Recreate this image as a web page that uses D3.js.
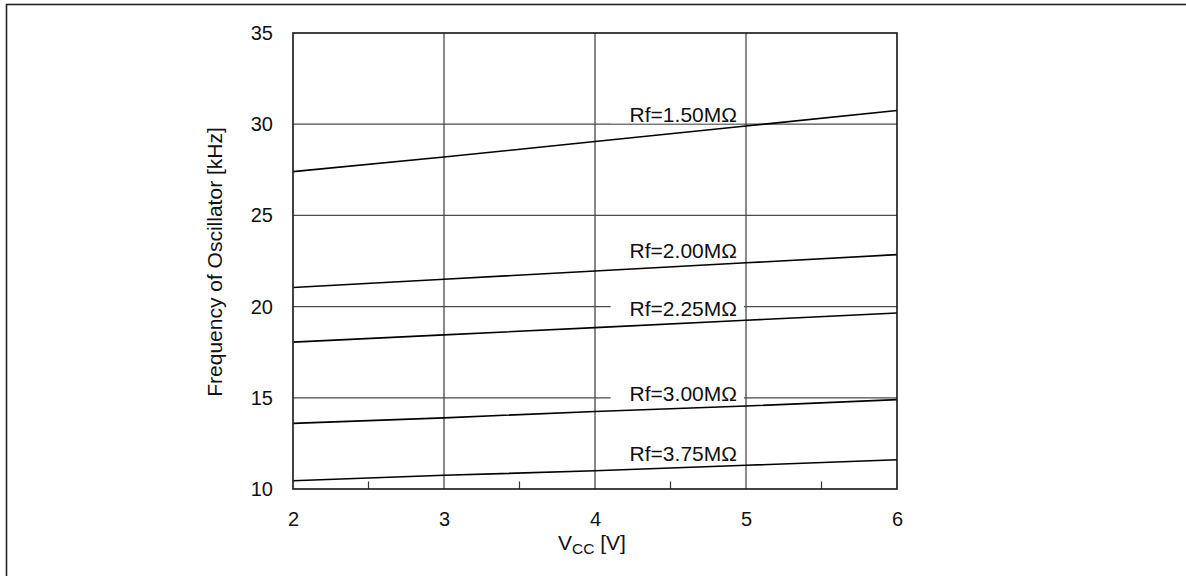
<!DOCTYPE html>
<html>
<head>
<meta charset="utf-8">
<script src="https://cdn.jsdelivr.net/npm/d3@7/dist/d3.min.js"></script>
<style>
  html, body { margin: 0; padding: 0; background: #fff; }
  svg { display: block; font-family: "Liberation Sans", Arial, Helvetica, sans-serif; }
</style>
</head>
<body>
<svg id="chart" width="1186" height="576"></svg>
<script>
// ---- data ----
const vcc = [2, 3, 4, 5, 6];
const seriesNames = ["Rf=1.50M\u03A9", "Rf=2.00M\u03A9", "Rf=2.25M\u03A9", "Rf=3.00M\u03A9", "Rf=3.75M\u03A9"];
const rf150 = [27.4, 28.2, 29.05, 29.9, 30.75];
const rf200 = [21.05, 21.5, 21.95, 22.4, 22.85];
const rf225 = [18.05, 18.45, 18.85, 19.25, 19.65];
const rf300 = [13.6, 13.9, 14.25, 14.55, 14.9];
const rf375 = [10.45, 10.75, 11.0, 11.3, 11.6];
const xTicks = [2, 3, 4, 5, 6];
const xMinorTicks = [2.5, 3.5, 4.5, 5.5];
const yTicks = [10, 15, 20, 25, 30, 35];
const labelAtV = 4.95;
const xTitleMain = "V", xTitleSub = "CC", xTitleUnit = " [V]";
const yTitle = "Frequency of Oscillator [kHz]";

const seriesValues = [rf150, rf200, rf225, rf300, rf375];

// ---- layout ----
const svg = d3.select("#chart");
const L = 293, R = 897, T = 33, B = 489;
const x = d3.scaleLinear().domain([2, 6]).range([L, R]);
const y = d3.scaleLinear().domain([10, 35]).range([B, T]);

// outer frame
svg.append("rect").attr("x", 6.5).attr("y", 4.5).attr("width", 1300).attr("height", 700)
  .attr("fill", "none").attr("stroke", "#222").attr("stroke-width", 1.6);

// gridlines
const grid = svg.append("g").attr("stroke", "#4a4a4a").attr("stroke-width", 1.3);
grid.selectAll("line.v").data(xTicks.slice(1, -1)).join("line")
  .attr("x1", d => x(d)).attr("x2", d => x(d)).attr("y1", T).attr("y2", B);
grid.selectAll("line.h").data(yTicks.slice(1, -1)).join("line")
  .attr("x1", L).attr("x2", R).attr("y1", d => y(d)).attr("y2", d => y(d));

// minor ticks on bottom axis
svg.append("g").attr("stroke", "#333").attr("stroke-width", 1.2)
  .selectAll("line").data(xMinorTicks).join("line")
  .attr("x1", d => x(d)).attr("x2", d => x(d)).attr("y1", B).attr("y2", B - 7.5);

// labels (with white background masking gridlines)
const labelsG = svg.append("g");
const lineGen = d3.line().x((d, i) => x(vcc[i])).y(d => y(d));
const interp = (vals, v) => {
  const i = Math.min(vcc.length - 2, Math.max(0, d3.bisectRight(vcc, v) - 1));
  const t = (v - vcc[i]) / (vcc[i + 1] - vcc[i]);
  return vals[i] + t * (vals[i + 1] - vals[i]);
};
const labelTexts = seriesValues.map((vals, k) => {
  const bg = labelsG.append("rect").attr("fill", "#fff");
  const t = labelsG.append("text")
    .attr("x", x(labelAtV) - 1.5)
    .attr("y", y(interp(vals, labelAtV)) - 5)
    .attr("text-anchor", "end")
    .attr("font-size", 21)
    .attr("fill", "#111")
    .text(seriesNames[k]);
  const bb = t.node().getBBox();
  const base = +t.attr("y");
  bg.attr("x", bb.x - 19).attr("width", bb.width + 26)
    .attr("y", base - 15).attr("height", 16.5);
  return t;
});

// series lines
svg.append("g").selectAll("path").data(seriesValues).join("path")
  .attr("d", d => lineGen(d))
  .attr("fill", "none").attr("stroke", "#000").attr("stroke-width", 1.6);

// text above lines
const textTop = svg.append("g");
labelTexts.forEach(t => textTop.node().appendChild(t.node()));

// plot frame
svg.append("rect").attr("x", L).attr("y", T).attr("width", R - L).attr("height", B - T)
  .attr("fill", "none").attr("stroke", "#222").attr("stroke-width", 1.7);

// y axis tick labels
const yAxis = d3.axisLeft(y).tickValues(yTicks).tickSize(0).tickPadding(20);
const gy = svg.append("g").attr("transform", `translate(${L},0)`).call(yAxis);
gy.select(".domain").remove();
gy.selectAll("text").attr("font-size", 20).attr("fill", "#111")
  .attr("font-family", "Liberation Sans, Arial, sans-serif");

// x axis tick labels
const xAxis = d3.axisBottom(x).tickValues(xTicks).tickSize(0).tickPadding(23).tickFormat(d3.format("d"));
const gx = svg.append("g").attr("transform", `translate(0,${B})`).call(xAxis);
gx.select(".domain").remove();
gx.selectAll("text").attr("font-size", 20).attr("fill", "#111")
  .attr("font-family", "Liberation Sans, Arial, sans-serif");

// x title
const xt = svg.append("text").attr("x", (L + R) / 2 - 3).attr("y", 550)
  .attr("text-anchor", "middle").attr("font-size", 21).attr("fill", "#111");
xt.append("tspan").text(xTitleMain);
xt.append("tspan").attr("font-size", 15.5).attr("dy", 4).text(xTitleSub);
xt.append("tspan").attr("dy", -4).text(xTitleUnit);

// y title
svg.append("text")
  .attr("transform", `translate(222,${(T + B) / 2 + 1}) rotate(-90)`)
  .attr("text-anchor", "middle").attr("font-size", 21).attr("fill", "#111")
  .text(yTitle);
</script>
</body>
</html>
